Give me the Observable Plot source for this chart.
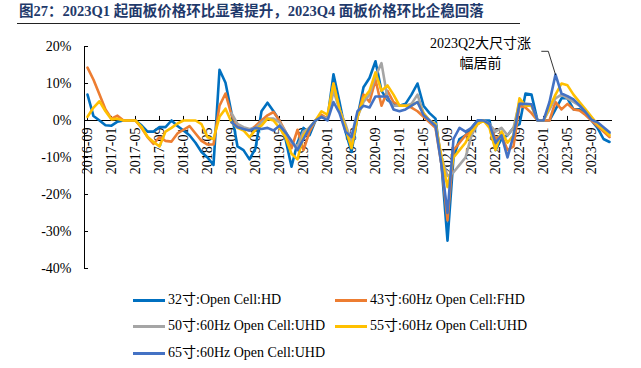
<!DOCTYPE html>
<html>
<head>
<meta charset="utf-8">
<script src="https://cdn.jsdelivr.net/npm/d3@7"></script>
<script src="https://cdn.jsdelivr.net/npm/@observablehq/plot@0.6"></script>
<style>
  html, body { margin: 0; padding: 0; background: #fff; }
  body { width: 641px; height: 368px; overflow: hidden; font-family: "Liberation Serif", "Times New Roman", "Noto Sans CJK SC", serif; }
  #title { margin-left: 17px; width: 501px; height: 23px; border-bottom: 1px solid #222; box-sizing: content-box;
    font-size: 14.5px; font-weight: bold; color: #1F3A6B; line-height: 23px; padding-left: 2px; white-space: nowrap; }
  #chart { height: 258px; }
  #chart svg { display: block; }
  #legend { position: relative; height: 85px; font-size: 14px; color: #000; }
  .sw { position: absolute; width: 32px; height: 3px; }
  .lb { position: absolute; line-height: 18px; white-space: nowrap; }
</style>
</head>
<body>
<div id="title">图27：2023Q1 起面板价格环比显著提升，2023Q4 面板价格环比企稳回落</div>
<div id="chart"></div>
<div id="legend"></div>
<script>
// Months 2016-09 .. 2023-12
const months = d3.utcMonth.range(new Date(Date.UTC(2016, 8, 1)), new Date(Date.UTC(2024, 0, 1))).map(d3.utcFormat("%Y-%m"));

const tickLabels = ["2016-09","2017-01","2017-05","2017-09","2018-01","2018-05","2018-09","2019-01","2019-05","2019-09",
  "2020-01","2020-05","2020-09","2021-01","2021-05","2021-09","2022-01","2022-05","2022-09","2023-01","2023-05","2023-09"];
const yTicks = [20, 10, 0, -10, -20, -30, -40];

const seriesNames = ["32寸:Open Cell:HD", "43寸:60Hz Open Cell:FHD", "50寸:60Hz Open Cell:UHD", "55寸:60Hz Open Cell:UHD", "65寸:60Hz Open Cell:UHD"];
const seriesColors = ["#0070C0", "#ED7D31", "#A5A5A5", "#FFC000", "#4472C4"];

const s32 = [7,1.2,0,-1.3,-1.4,-0.3,0,0,0,-1.3,-3,-3,-1.8,-1.8,0,-1.5,
  -2.7,-4,-6,-8.5,-10,-12,13.7,10.2,2,-7,-8,-10.5,
  -7.5,2.5,4.8,2.5,0,-5,-12.5,-6,-2,-4,0,1,
  0.5,12.5,5,-3,-8.5,1,9,11.5,16,8,5.5,4.5,
  4,4.5,7,10,4,2,0.5,-12,-32.5,-10,-5,-4,
  -2,0,0,0,-8,-5,-4,-2,-1,7.3,7,0,
  0,0,3,6,6,3,3,2,0,-2,-5,-5.8];
const s43 = [14.3,11,7,3,0.5,1.3,0,0,0,-2,-4.5,-6.3,-4.5,-5.5,-5.7,-3.5,
  -2.5,-1.5,-3.5,-5.5,-6.5,-6.5,4,7.3,1.5,-1.4,-2.3,-2.7,
  -1.5,0,1.4,2.3,0,-3,-7.5,-2.5,-8,-3,0,1.5,
  0.5,10,3,-2,-7,1,7,5,11,4,8,5,
  4,4,3.5,2.5,1,-0.5,-2,-12,-27,-8,-6,-4,
  -3,-1,0,-1,-5,-4,-8,-7,4,3.5,2,0,
  0,0,5,3,4.5,3,2.7,1.5,0,-1.5,-3,-4.5];
const s50 = [null,null,null,null,null,null,null,null,null,null,null,null,null,null,null,null,
  null,null,null,null,null,null,null,null,2,-0.9,-1.8,-2.3,
  -2,-0.5,0.5,0.5,-0.5,-3,-6,-7,-3,-2,0,1,
  0.5,8,3,-1,-6,1,5,7,12,15.5,6,4,
  4,4,4.5,7,2,0,-1,-10,-15,-14,-12,-10,
  -4,-1,0,-1,-3,-2,-4,-2,5,4,4,0,
  0,3,6,7,6,5,4,2.5,0.5,-1,-2.5,-3.5];
const s55 = [1,3.5,5.2,2.5,0.3,0.5,0,0,0,-1.7,-4.4,-5.8,-7,-3,-2,-0.8,
  0,0,0,-1,-4.5,-5,1,3.2,-0.5,-2,-2.7,-4.5,
  -2.5,-1.4,0.5,0,-2,-4.5,-9,-10.5,-4,-2,0,2.5,
  1.5,10,3,-2,-7.5,1,6,8,13,8,9.5,7,
  4,4,4,5,2,0,-1,-10,-18,-10,-8,-6,
  -3,-1,0,-2,-8,-3,-6,-4,6,4,4,0,
  0,3.5,7,10,9.5,7,5,3,1,-1,-2.5,-4];
const s65 = [null,null,null,null,null,null,null,null,null,null,null,null,null,null,null,null,
  null,null,null,null,null,null,null,null,-0.5,-1.8,-2.3,-2.7,
  -2,-2.3,-2,-2.7,-1.4,-3.2,-5.5,-8,-5,-2,0,1,
  0,5,2,-3,-4.5,2.5,4,3.5,6.5,6.5,6.5,3,
  2.5,3,4,5,1.5,0,-1.5,-12,-25,-5,-2,-3,
  -2,0,0,-1,-6,-4,-10,-4,4.5,4.5,4.4,0,
  0,5,12.4,7.3,6.6,5.7,4.1,2.3,0.2,-0.5,-1.8,-3.2];

const seriesValues = [s32, s43, s50, s55, s65];
const rows = seriesValues.map((arr, k) =>
  months.map((m, i) => ({month: m, i, v: arr[i], s: seriesNames[k]})).filter(d => d.v != null));

const annIdx = months.indexOf("2023-03");
const annVal = s65[annIdx];
const annText = "2023Q2大尺寸涨\n幅居前";

const font = '"Liberation Serif", "Times New Roman", "Noto Sans CJK SC", serif';

const chart = Plot.plot({
  width: 641, height: 258,
  marginTop: 22, marginBottom: 14, marginLeft: 84, marginRight: 29,
  x: {type: "linear", domain: [-0.5, months.length - 0.5], axis: null},
  y: {domain: [-40, 20], axis: null},
  style: {fontFamily: font, fontSize: "14px", color: "#000", background: "#fff"},
  marks: [
    Plot.ruleX([-0.5], {y1: -40, y2: 20, stroke: "#000", strokeWidth: 1}),
    Plot.ruleY(yTicks, {y: d => d, x1: -0.5, x2: 0.17, stroke: "#000"}),
    Plot.text(yTicks, {x: -0.5, y: d => d, text: d => d + "%", textAnchor: "end", dx: -13, fontSize: 14, fill: "#000"}),
    Plot.ruleY([0], {stroke: "#000", strokeWidth: 1}),
    Plot.ruleX(tickLabels, {x: d => months.indexOf(d), y1: 0, y2: 1.1, stroke: "#000"}),
    Plot.text(tickLabels, {x: d => months.indexOf(d), y: 0, text: d => d, rotate: -90, textAnchor: "end", dy: 7, fontSize: 14, fill: "#000"}),
    ...rows.map((r, k) => Plot.line(r, {x: "i", y: "v", stroke: seriesColors[k], strokeWidth: 2.6, strokeLinejoin: "round"})),
    Plot.line([{x: annIdx - 2.3, y: annVal + 6.3}, {x: annIdx - 1.2, y: annVal + 6.3}, {x: annIdx, y: annVal}],
      {x: "x", y: "y", stroke: "#000", strokeWidth: 0.8}),
    Plot.text([{x: annIdx, y: annVal}], {x: "x", y: "y", text: () => annText, dx: -75, dy: -23,
      textAnchor: "middle", lineAnchor: "middle", lineHeight: 1.4, fontSize: 14, fill: "#000"})
  ]
});
document.getElementById("chart").appendChild(chart);

// Legend
const legend = document.getElementById("legend");
const legPos = [[133, 18], [335, 18], [133, 44], [335, 44], [133, 71]];
seriesNames.forEach((name, k) => {
  const [x, y] = legPos[k];
  const sw = document.createElement("div");
  sw.className = "sw";
  sw.style.left = x + "px";
  sw.style.top = (y - 1.5) + "px";
  sw.style.background = seriesColors[k];
  legend.appendChild(sw);
  const lb = document.createElement("div");
  lb.className = "lb";
  lb.style.left = (x + 35) + "px";
  lb.style.top = (y - 9) + "px";
  lb.textContent = name;
  legend.appendChild(lb);
});
</script>
</body>
</html>
